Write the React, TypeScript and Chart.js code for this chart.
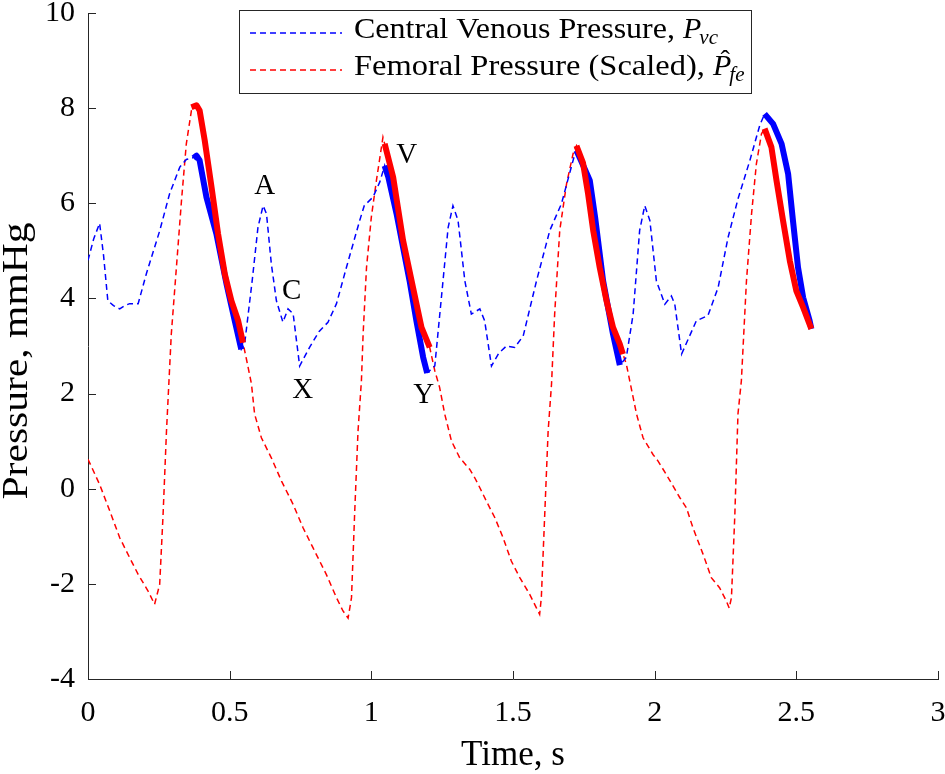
import React, { useEffect, useRef } from 'react';
import { Chart, registerables } from 'chart.js';

Chart.register(...registerables);

// ---------- data ----------
const cvpTime = [
  0.0, 0.02, 0.041, 0.055, 0.07, 0.09, 0.112, 0.13, 0.147, 0.177, 0.206, 0.253, 0.288, 0.324, 0.347, 0.377,
  0.394, 0.418, 0.453, 0.489, 0.518, 0.541, 0.553, 0.58, 0.6, 0.618, 0.63, 0.647, 0.665, 0.688, 0.706, 0.724,
  0.747, 0.782, 0.815, 0.847, 0.877, 0.912, 0.959, 0.975, 1.006, 1.03, 1.047, 1.089, 1.135, 1.159, 1.183, 1.2,
  1.224, 1.253, 1.271, 1.288, 1.306, 1.33, 1.353, 1.383, 1.4, 1.424, 1.45, 1.477, 1.506, 1.536, 1.583, 1.63,
  1.671, 1.712, 1.724, 1.759, 1.783, 1.818, 1.853, 1.877, 1.9, 1.924, 1.947, 1.965, 1.983, 2.006, 2.036, 2.059,
  2.071, 2.095, 2.147, 2.188, 2.224, 2.259, 2.294, 2.336, 2.371, 2.388,
];
const cvpPressure = [
  4.8, 5.25, 5.58, 4.9, 3.95, 3.85, 3.78, 3.85, 3.89, 3.89, 4.52, 5.42, 6.2, 6.76, 6.92, 6.97,
  6.9, 6.13, 5.36, 4.3, 3.53, 2.93, 3.05, 4.4, 5.5, 5.95, 5.78, 4.73, 3.95, 3.5, 3.78, 3.68,
  2.58, 2.97, 3.3, 3.5, 3.89, 4.65, 5.64, 5.95, 6.13, 6.45, 6.79, 5.78, 4.37, 3.53, 2.76, 2.45,
  2.58, 4.37, 5.49, 5.95, 5.64, 4.37, 3.67, 3.78, 3.53, 2.58, 2.85, 3.0, 2.97, 3.21, 4.37, 5.43,
  5.99, 6.9, 7.15, 6.55, 5.78, 4.37, 3.25, 2.6, 2.76, 3.67, 5.43, 5.95, 5.64, 4.37, 3.88, 4.05,
  3.88, 2.83, 3.53, 3.64, 4.23, 5.28, 6.09, 6.9, 7.64, 7.88,
];

const femTime = [
  0.0, 0.041, 0.077, 0.112, 0.147, 0.177, 0.212, 0.235, 0.253, 0.265, 0.277, 0.294, 0.312, 0.33, 0.347, 0.365,
  0.383, 0.412, 0.436, 0.459, 0.483, 0.506, 0.53, 0.547, 0.56, 0.577, 0.588, 0.612, 0.647, 0.683, 0.724, 0.759,
  0.794, 0.841, 0.877, 0.9, 0.918, 0.93, 0.941, 0.953, 0.965, 0.971, 0.983, 1.0, 1.018, 1.041, 1.047, 1.077,
  1.112, 1.147, 1.177, 1.206, 1.224, 1.241, 1.259, 1.283, 1.312, 1.347, 1.365, 1.383, 1.406, 1.436, 1.465, 1.494,
  1.524, 1.559, 1.583, 1.594, 1.6, 1.612, 1.624, 1.636, 1.647, 1.665, 1.689, 1.712, 1.724, 1.747, 1.765, 1.783,
  1.806, 1.83, 1.853, 1.877, 1.888, 1.9, 1.924, 1.936, 1.959, 1.994, 2.012, 2.041, 2.089, 2.112, 2.135, 2.171,
  2.2, 2.229, 2.253, 2.263, 2.271, 2.283, 2.294, 2.306, 2.312, 2.324, 2.342, 2.359, 2.377, 2.388,
];
const femPressure = [
  0.62, 0.09, -0.47, -1.03, -1.45, -1.8, -2.15, -2.43, -2.01, -0.54, 1.21, 3.25, 4.65, 6.06, 7.25, 7.95,
  8.06, 7.32, 6.34, 5.36, 4.51, 3.95, 3.53, 3.07, 2.7, 2.2, 1.57, 1.07, 0.65, 0.16, -0.33, -0.82,
  -1.24, -1.8, -2.29, -2.57, -2.72, -2.29, -0.54, 1.21, 2.27, 3.25, 4.65, 5.71, 6.48, 7.39, 7.25, 6.55,
  5.22, 4.23, 3.39, 2.97, 2.48, 2.13, 1.57, 1.0, 0.65, 0.41, 0.23, 0.02, -0.26, -0.61, -1.03, -1.52,
  -1.87, -2.22, -2.51, -2.64, -2.29, -0.54, 1.21, 2.2, 3.67, 5.43, 6.41, 7.04, 7.21, 6.85, 6.2, 5.43,
  4.65, 3.95, 3.39, 3.04, 2.83, 2.62, 1.92, 1.57, 1.07, 0.72, 0.58, 0.3, -0.19, -0.4, -0.82, -1.38,
  -1.87, -2.08, -2.36, -2.51, -2.29, -0.54, 1.57, 2.27, 2.97, 4.37, 5.78, 6.83, 7.46, 7.57,
];

// thick (highlighted) segments, null separates segments
const cvpThickTime = [
  0.372, 0.383, 0.394, 0.418, 0.453, 0.489, 0.518, 0.541, null,
  1.047, 1.06, 1.089, 1.135, 1.159, 1.183, 1.197, null,
  1.724, 1.74, 1.771, 1.79, 1.818, 1.853, 1.877, null,
  2.388, 2.418, 2.448, 2.471, 2.488, 2.506, 2.524, 2.547, 2.553,
];
const cvpThickPressure = [
  6.95, 7.0, 6.9, 6.13, 5.36, 4.3, 3.53, 2.93, null,
  6.79, 6.55, 5.78, 4.37, 3.53, 2.76, 2.43, null,
  7.11, 6.9, 6.48, 5.7, 4.37, 3.25, 2.6, null,
  7.88, 7.67, 7.25, 6.62, 5.64, 4.65, 4.02, 3.53, 3.36,
];
const femThickTime = [
  0.365, 0.383, 0.394, 0.412, 0.436, 0.459, 0.483, 0.506, 0.53, 0.547, null,
  1.047, 1.077, 1.112, 1.147, 1.177, 1.206, null,
  1.724, 1.747, 1.765, 1.783, 1.806, 1.83, 1.853, 1.877, 1.888, null,
  2.388, 2.412, 2.43, 2.453, 2.477, 2.5, 2.524, 2.553,
];
const femThickPressure = [
  8.02, 8.06, 7.95, 7.32, 6.34, 5.36, 4.51, 3.95, 3.53, 3.07, null,
  7.25, 6.55, 5.22, 4.23, 3.39, 2.97, null,
  7.21, 6.85, 6.2, 5.43, 4.65, 3.95, 3.39, 3.04, 2.83, null,
  7.57, 7.18, 6.48, 5.64, 4.79, 4.16, 3.81, 3.36,
];

const xTickValues = [0, 0.5, 1, 1.5, 2, 2.5, 3];
const xTickLabels = ['0', '0.5', '1', '1.5', '2', '2.5', '3'];
const yTickValues = [-4, -2, 0, 2, 4, 6, 8, 10];
const yTickLabels = ['-4', '-2', '0', '2', '4', '6', '8', '10'];

const annotationLabels = ['A', 'C', 'X', 'V', 'Y'];
const annotationTime = [0.624, 0.719, 0.758, 1.125, 1.185];
const annotationPressure = [6.2, 3.99, 1.91, 6.84, 1.8];

const xTitle = 'Time, s';
const yTitle = 'Pressure, mmHg';
const legendMain = ['Central Venous Pressure, ', 'Femoral Pressure (Scaled), '];
const legendSymbol = ['P', 'P'];
const legendSub = ['vc', 'fe'];
const legendHat = [false, true];

// ---------- styles ----------
const FONT = '"Liberation Serif", "Times New Roman", serif';
const AXIS = '#262626';
const BLUE = '#0000ff';
const RED = '#ff0000';

function toPoints(t: (number | null)[], p: (number | null)[]) {
  return t.map((x, i) => ({ x: x as number, y: p[i] as number }));
}

const overlayPlugin = {
  id: 'overlay',
  afterDatasetsDraw(chart: any) {
    const ctx = chart.ctx;
    const xs = chart.scales.x;
    const ys = chart.scales.y;
    ctx.save();
    ctx.fillStyle = '#000';
    ctx.font = `29px ${FONT}`;
    ctx.textAlign = 'center';
    ctx.textBaseline = 'alphabetic';
    annotationLabels.forEach((lab, i) => {
      ctx.fillText(lab, xs.getPixelForValue(annotationTime[i]), ys.getPixelForValue(annotationPressure[i]));
    });
    ctx.restore();
  },
  afterDraw(chart: any) {
    const ctx = chart.ctx;
    const xs = chart.scales.x;
    const ys = chart.scales.y;
    const area = chart.chartArea;
    ctx.save();
    // inward ticks
    ctx.strokeStyle = AXIS;
    ctx.lineWidth = 1;
    ctx.beginPath();
    xTickValues.forEach((v) => {
      const px = Math.round(xs.getPixelForValue(v)) + 0.5;
      ctx.moveTo(px, area.bottom);
      ctx.lineTo(px, area.bottom - 8);
    });
    yTickValues.forEach((v) => {
      const py = Math.round(ys.getPixelForValue(v)) + 0.5;
      ctx.moveTo(area.left, py);
      ctx.lineTo(area.left + 8, py);
    });
    ctx.stroke();

    // axis titles
    ctx.fillStyle = '#000';
    ctx.font = `35px ${FONT}`;
    ctx.textAlign = 'center';
    ctx.textBaseline = 'alphabetic';
    ctx.fillText(xTitle, (area.left + area.right) / 2, 765);

    ctx.save();
    ctx.translate(27, (area.top + area.bottom) / 2 + 15);
    ctx.rotate(-Math.PI / 2);
    const w = ctx.measureText(yTitle).width;
    ctx.scale(277 / w, 1);
    ctx.fillText(yTitle, 0, 0);
    ctx.restore();

    // legend
    const bx = 239.5, by = 10.5, bw = 512, bh = 83;
    ctx.fillStyle = '#fff';
    ctx.fillRect(bx, by, bw, bh);
    ctx.strokeStyle = AXIS;
    ctx.lineWidth = 1;
    ctx.strokeRect(bx, by, bw, bh);
    const rowsY = [33, 70];
    const baselines = [38, 75];
    const symX = [683, 713];
    [BLUE, RED].forEach((col, i) => {
      ctx.save();
      ctx.strokeStyle = col;
      ctx.lineWidth = 1.5;
      ctx.setLineDash([6, 4]);
      ctx.beginPath();
      ctx.moveTo(250, rowsY[i]);
      ctx.lineTo(342, rowsY[i]);
      ctx.stroke();
      ctx.restore();

      ctx.fillStyle = '#000';
      ctx.textAlign = 'left';
      ctx.font = `29px ${FONT}`;
      const tw = ctx.measureText(legendMain[i]).width;
      ctx.save();
      ctx.translate(354, baselines[i]);
      ctx.scale((symX[i] - 354) / tw, 1);
      ctx.fillText(legendMain[i], 0, 0);
      ctx.restore();

      ctx.font = `italic 30px ${FONT}`;
      ctx.fillText(legendSymbol[i], symX[i], baselines[i]);
      const pw = ctx.measureText(legendSymbol[i]).width;
      if (legendHat[i]) {
        ctx.save();
        ctx.font = `28px ${FONT}`;
        ctx.textAlign = 'center';
        ctx.fillText('\u02C6', symX[i] + pw / 2 + 3, baselines[i] - 6);
        ctx.restore();
      }
      ctx.font = `italic 21px ${FONT}`;
      ctx.fillText(legendSub[i], symX[i] + pw - 2, baselines[i] + 6);
    });
    ctx.restore();
  },
};

export default function App() {
  const canvasRef = useRef<HTMLCanvasElement | null>(null);

  useEffect(() => {
    const canvas = canvasRef.current;
    if (!canvas) return;
    const chart = new Chart(canvas, {
      type: 'line',
      data: {
        datasets: [
          {
            label: 'femThick',
            data: toPoints(femThickTime, femThickPressure),
            borderColor: RED,
            borderWidth: 6,
            pointRadius: 0,
            tension: 0,
            spanGaps: false,
            borderJoinStyle: 'round',
            order: 0,
          },
          {
            label: 'cvpThick',
            data: toPoints(cvpThickTime, cvpThickPressure),
            borderColor: BLUE,
            borderWidth: 6,
            pointRadius: 0,
            tension: 0,
            spanGaps: false,
            borderJoinStyle: 'round',
            order: 1,
          },
          {
            label: 'Central Venous Pressure',
            data: toPoints(cvpTime, cvpPressure),
            borderColor: BLUE,
            borderWidth: 1.5,
            borderDash: [6, 4],
            pointRadius: 0,
            tension: 0,
            order: 2,
          },
          {
            label: 'Femoral Pressure (Scaled)',
            data: toPoints(femTime, femPressure),
            borderColor: RED,
            borderWidth: 1.5,
            borderDash: [6, 4],
            pointRadius: 0,
            tension: 0,
            order: 3,
          },
        ],
      },
      options: {
        responsive: false,
        animation: false,
        layout: { padding: { top: 13, right: 7, left: 0, bottom: 0 } },
        plugins: {
          legend: { display: false },
          tooltip: { enabled: false },
        },
        scales: {
          x: {
            type: 'linear',
            min: 0,
            max: 3,
            afterBuildTicks: (scale: any) => {
              scale.ticks = xTickValues.map((v) => ({ value: v }));
            },
            afterFit: (scale: any) => {
              scale.height = 95;
              scale.paddingLeft = 0;
              scale.paddingRight = 0;
            },
            grid: { display: false, drawTicks: false },
            border: { display: true, color: AXIS, width: 1 },
            ticks: {
              color: '#000',
              font: { family: FONT, size: 30 },
              padding: 16,
              maxRotation: 0,
              autoSkip: false,
              callback: (v: any) => {
                const i = xTickValues.indexOf(Number(v));
                return i >= 0 ? xTickLabels[i] : '';
              },
            },
          },
          y: {
            type: 'linear',
            min: -4,
            max: 10,
            afterBuildTicks: (scale: any) => {
              scale.ticks = yTickValues.map((v) => ({ value: v }));
            },
            afterFit: (scale: any) => {
              scale.width = 88;
              scale.paddingTop = 0;
              scale.paddingBottom = 0;
            },
            grid: { display: false, drawTicks: false },
            border: { display: true, color: AXIS, width: 1 },
            ticks: {
              color: '#000',
              font: { family: FONT, size: 30 },
              padding: 13,
              autoSkip: false,
              callback: (v: any) => {
                const i = yTickValues.indexOf(Number(v));
                return i >= 0 ? yTickLabels[i] : '';
              },
            },
          },
        },
      },
      plugins: [overlayPlugin],
    } as any);
    return () => chart.destroy();
  }, []);

  return (
    <div style={{ position: 'fixed', left: 0, top: 0, width: 945, height: 774, background: '#fff' }}>
      <canvas ref={canvasRef} width={945} height={774} style={{ display: 'block' }} />
    </div>
  );
}
